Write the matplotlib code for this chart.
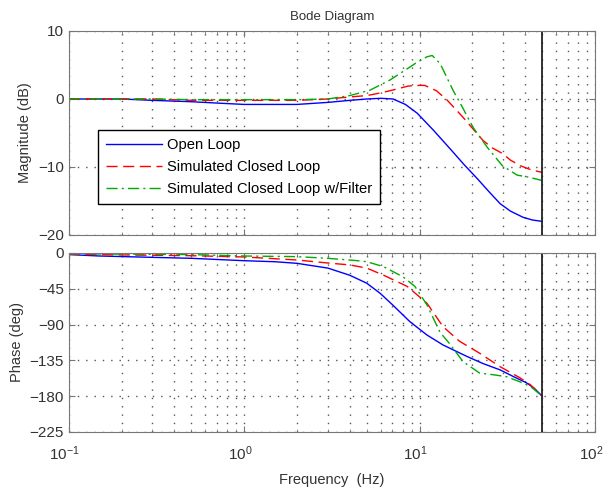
import numpy as np
import matplotlib.pyplot as plt
import matplotlib.transforms as mtransforms
from matplotlib.ticker import LogLocator, NullFormatter

plt.rcParams['font.family'] = ['Liberation Sans', 'DejaVu Sans']
plt.rcParams['mathtext.fontset'] = 'custom'
plt.rcParams['mathtext.rm'] = 'Liberation Sans'
plt.rcParams['mathtext.it'] = 'Liberation Sans'
plt.rcParams['mathtext.default'] = 'regular'

# magnitude (dB)
f_mag_ol = [0.1, 0.2, 0.3, 0.5, 0.7, 1.0, 2.0, 3.0, 4.0, 5.0, 6.0, 7.06, 8.3, 9.7,
            12.0, 14.9, 18.0, 21.3, 25.0, 28.8, 33.0, 38.9, 44.0, 50.0]
mag_ol = [0.0, 0.0, -0.2, -0.4, -0.6, -0.8, -0.8, -0.5, -0.2, 0.0, 0.1, 0.0, -0.8, -2.1,
          -4.6, -7.3, -9.7, -11.7, -13.7, -15.4, -16.5, -17.4, -17.8, -18.0]

f_mag_cl = [0.1, 0.3, 0.5, 1.0, 2.0, 3.0, 4.0, 5.0, 6.0, 7.0, 8.6, 10.0, 10.7, 12.5,
            14.4, 17.7, 20.0, 23.0, 26.0, 29.6, 33.0, 37.4, 43.0, 50.0]
mag_cl = [0.0, 0.0, -0.2, -0.2, -0.2, 0.0, 0.3, 0.5, 0.9, 1.3, 1.9, 2.0, 2.0, 1.2,
          -0.2, -2.7, -4.3, -6.1, -7.2, -8.0, -9.0, -9.8, -10.4, -10.8]

f_mag_flt = [0.1, 0.3, 0.5, 1.0, 2.0, 3.0, 4.0, 5.22, 6.79, 8.0, 9.68, 11.0, 11.8, 13.1,
             15.5, 17.7, 20.2, 24.3, 29.6, 36.0, 42.0, 50.0]
mag_flt = [0.0, 0.0, -0.1, -0.1, -0.1, 0.0, 0.5, 1.3, 2.8, 4.0, 5.4, 6.2, 6.4, 5.2,
           1.3, -1.4, -4.2, -7.1, -9.8, -11.2, -11.5, -12.0]

# phase (deg)
f_ph_ol = [0.1, 0.15, 0.2, 0.5, 1.0, 1.5, 2.0, 3.0, 4.0, 5.0, 5.96, 7.0, 8.8, 11.0,
           13.6, 18.6, 23.0, 28.8, 34.0, 40.5, 45.0, 50.0]
ph_ol = [-2.0, -3.8, -4.5, -6.7, -9.7, -11.0, -13.0, -19.0, -28.0, -38.0, -50.7, -65.0,
         -86.3, -103.0, -115.6, -130.0, -139.0, -147.0, -155.0, -163.0, -170.0, -180.0]

f_ph_cl = [0.1, 0.5, 1.0, 2.0, 3.0, 4.0, 5.0, 6.2, 8.5, 11.0, 13.6, 16.9, 22.0, 28.8,
           37.4, 43.0, 50.0]
ph_cl = [-1.7, -3.4, -5.0, -8.8, -12.6, -15.0, -19.0, -27.7, -42.0, -63.0, -92.6, -111.0,
         -126.0, -143.0, -157.0, -166.0, -180.0]

f_ph_flt = [0.1, 0.5, 1.0, 2.0, 3.0, 4.4, 5.0, 6.2, 8.05, 9.4, 11.0, 13.1, 14.7, 17.7,
            22.0, 26.2, 31.3, 37.4, 43.0, 50.0]
ph_flt = [-1.0, -2.0, -3.8, -4.6, -6.7, -9.6, -11.0, -17.0, -30.0, -42.0, -65.0, -100.0,
          -113.0, -136.6, -151.0, -153.0, -155.5, -162.0, -168.0, -180.0]

f_nyq = 50.0

blue, red, green = '#0000ff', '#ff0000', '#00aa00'
frame = '#777777'
txt = '#333333'
dots = (0, (1, 5))

fig = plt.figure(figsize=(6.05, 4.92), dpi=100)
ax1 = fig.add_axes([0.1136, 0.5224, 0.8699, 0.4146])
ax2 = fig.add_axes([0.1136, 0.1220, 0.8699, 0.3638])

ax1.semilogx(f_mag_ol, mag_ol, color=blue, lw=1.0, label='Open Loop')
ax1.semilogx(f_mag_cl, mag_cl, color=red, lw=1.0, ls=(0, (8, 4)), label='Simulated Closed Loop')
ax1.semilogx(f_mag_flt, mag_flt, color=green, lw=1.0, ls=(0, (8, 3, 1.5, 3)),
             label='Simulated Closed Loop w/Filter')

ax2.semilogx(f_ph_ol, ph_ol, color=blue, lw=1.0)
ax2.semilogx(f_ph_cl, ph_cl, color=red, lw=1.0, ls=(0, (8, 4)))
ax2.semilogx(f_ph_flt, ph_flt, color=green, lw=1.0, ls=(0, (8, 3, 1.5, 3)))

for ax in (ax1, ax2):
    ax.axvline(f_nyq, color='#222222', lw=1.3)
    ax.set_xlim(0.1, 100)
    ax.xaxis.set_major_locator(LogLocator(base=10, numticks=10))
    ax.xaxis.set_minor_locator(LogLocator(base=10, subs=np.arange(2, 10), numticks=20))
    ax.xaxis.set_minor_formatter(NullFormatter())
    ax.grid(True, which='major', ls=dots, color='#555555', lw=1.0)
    ax.grid(True, which='minor', axis='x', ls=dots, color='#555555', lw=1.0)
    ax.tick_params(which='both', direction='in', top=True, right=True, colors=frame,
                   labelcolor=txt, labelsize=11)
    ax.tick_params(which='major', length=4)
    ax.tick_params(which='minor', length=2)
    for s in ax.spines.values():
        s.set_color(frame)

ax1.set_ylim(-20, 10)
ax1.set_yticks([-20, -10, 0, 10])
ax1.tick_params(labelbottom=False)
ax1.set_ylabel('Magnitude (dB)', fontsize=10.5, color=txt)
ax1.set_title('Bode Diagram', fontsize=9.5, color=txt, pad=8)

ax2.set_ylim(-225, 0)
ax2.set_yticks([-225, -180, -135, -90, -45, 0])
ax2.tick_params(axis='x', which='major', pad=9)
ax2.set_ylabel('Phase (deg)', fontsize=10.5, color=txt)
ax2.set_xlabel('Frequency  (Hz)', fontsize=10.5, color=txt, labelpad=7)

# nudge the decade labels a little left so 10^2 stays inside the figure
shift = mtransforms.ScaledTranslation(-4 / 100, 0, fig.dpi_scale_trans)
for lbl in ax2.get_xticklabels():
    lbl.set_transform(lbl.get_transform() + shift)

leg = ax1.legend(loc='upper left', bbox_to_anchor=(0.056, 0.515), fontsize=10.6,
                 handlelength=3.8, fancybox=False, framealpha=1, borderpad=0.55,
                 labelspacing=0.55, handletextpad=0.3, borderaxespad=0)
leg.get_frame().set_edgecolor('black')
leg.get_frame().set_linewidth(1.0)

fig.savefig('out.png', dpi=100)
